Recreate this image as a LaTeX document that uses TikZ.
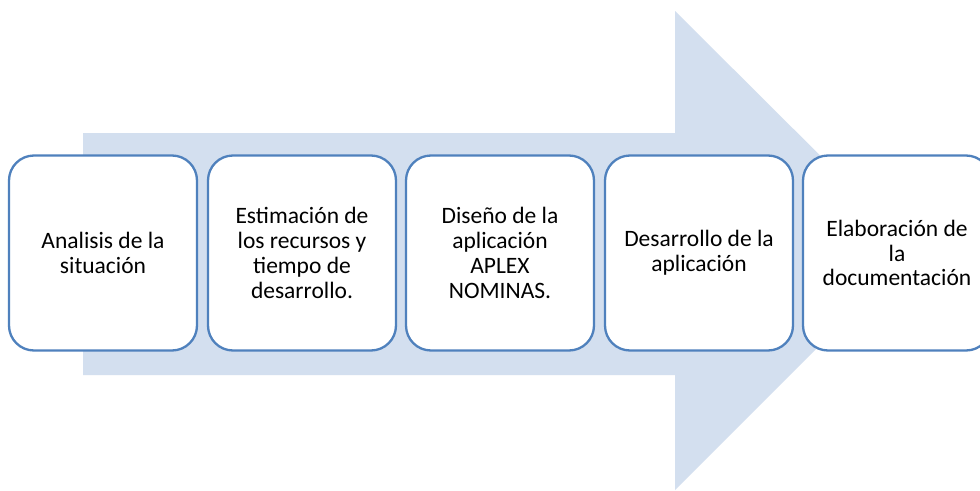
\documentclass[tikz,border=0pt]{standalone}
\usepackage{fontspec}
\setmainfont{Carlito}
\definecolor{arrowfill}{RGB}{211,223,239}
\definecolor{boxline}{RGB}{79,129,189}
\begin{document}
\begin{tikzpicture}[x=1pt,y=-1pt,
  stepbox/.style={draw=boxline, line width=2.3pt, fill=white, rounded corners=25pt,
    minimum width=188pt, minimum height=195pt, align=center, inner sep=4pt,
    font=\fontsize{23.5}{24.8}\selectfont, text=black}]
\clip (0,0) rectangle (980,490);
\fill[white] (0,0) rectangle (980,490);
\fill[arrowfill] (83,133) -- (675,133) -- (675,11) -- (915,250) -- (675,490) -- (675,375) -- (83,375) -- cycle;
\node[stepbox] (s1) at (103,253) {Analisis de la\\situación};
\node[stepbox] (s2) at (302,253) {Estimación de\\los recursos y\\tiempo de\\desarrollo.};
\node[stepbox] (s3) at (500,253) {Diseño de la\\aplicación\\APLEX\\NOMINAS.};
\node[stepbox] (s4) at (699,253) {Desarrollo de la\\aplicación};
\node[stepbox] (s5) at (897,253) {Elaboración de\\la\\documentación};
\end{tikzpicture}
\end{document}
